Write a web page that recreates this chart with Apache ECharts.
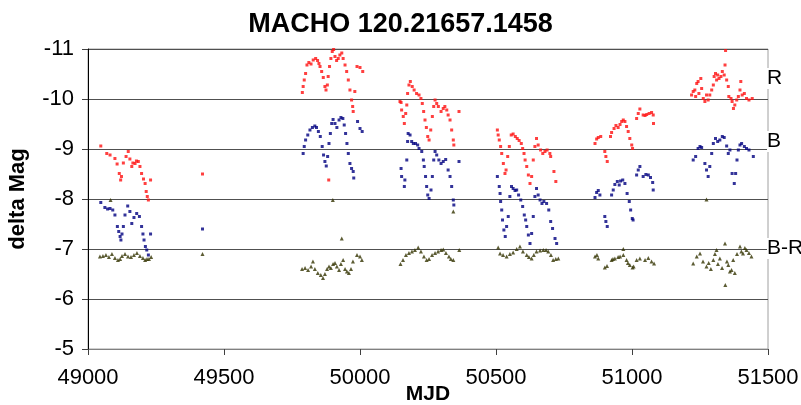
<!DOCTYPE html>
<html>
<head>
<meta charset="utf-8">
<script src="https://cdn.jsdelivr.net/npm/echarts@6/dist/echarts.min.js"></script>
<style>
html, body { margin: 0; padding: 0; background: #fff; }
#chart { width: 801px; height: 405px; }
</style>
</head>
<body>
<div id="chart"></div>
<script>
// MJD ticks
var xTicks = [49000, 49500, 50000, 50500, 51000, 51500];
var seriesNames = ['R', 'B', 'B-R'];

// R band, [MJD, delta mag]
var rData = [
    [49047,-9.06],[49069,-8.91],[49081,-8.88],[49099,-8.81],[49107,-8.7],[49115,-8.51],[49120,-8.38],[49123,-8.45],
    [49130,-8.72],[49140,-8.85],[49148,-8.95],[49154,-8.8],[49161,-8.65],[49165,-8.72],[49173,-8.71],[49178,-8.76],
    [49185,-8.75],[49191,-8.65],[49197,-8.51],[49204,-8.4],[49210,-8.31],[49214,-8.15],[49218,-8.05],[49222,-7.98],[49230,-8.38],
    [49421,-8.5],
    [49788,-10.13],[49791,-10.25],[49795,-10.38],[49800,-10.51],[49805,-10.68],[49812,-10.73],[49820,-10.7],[49828,-10.78],
    [49837,-10.81],[49844,-10.77],[49849,-10.71],[49853,-10.65],[49859,-10.55],[49865,-10.43],[49871,-10.25],[49875,-10.18],
    [49880,-10.28],[49883,-10.45],[49885,-8.38],[49888,-10.65],[49893,-10.81],[49898,-10.95],[49903,-10.99],[49908,-10.85],
    [49914,-10.77],[49920,-10.81],[49926,-10.88],[49933,-10.92],[49938,-10.81],[49945,-10.68],[49951,-10.55],[49957,-10.38],
    [49963,-10.18],[49969,-9.98],[49973,-9.85],[49975,-9.75],[49981,-10.15],[49989,-10.65],[50000,-10.63],[50010,-10.55],
    [50147,-9.95],[50151,-9.93],[50153,-9.78],[50159,-9.65],[50163,-9.51],[50168,-9.71],[50172,-9.88],[50175,-10.11],
    [50180,-10.28],[50185,-10.35],[50192,-10.25],[50199,-10.18],[50208,-10.11],[50217,-10.08],[50224,-10.01],[50229,-9.91],
    [50234,-9.75],[50239,-9.58],[50244,-9.43],[50249,-9.25],[50254,-9.18],[50260,-9.38],[50266,-9.65],[50271,-9.85],
    [50276,-9.98],[50282,-9.91],[50288,-9.85],[50298,-9.75],[50306,-9.81],[50312,-9.85],[50319,-9.78],[50324,-9.68],
    [50331,-9.58],[50337,-9.38],[50343,-9.18],[50345,-9.08],[50364,-9.75],
    [50505,-9.38],[50508,-9.28],[50512,-9.18],[50517,-9.05],[50521,-8.91],[50527,-8.71],[50533,-8.51],[50537,-8.58],
    [50543,-8.85],[50549,-9.05],[50556,-9.28],[50563,-9.3],[50571,-9.25],[50578,-9.21],[50585,-9.17],[50593,-9.11],
    [50598,-9.01],[50603,-8.91],[50607,-8.78],[50613,-8.65],[50619,-8.48],[50625,-8.31],[50631,-8.45],[50637,-8.78],
    [50643,-9.05],[50649,-9.21],[50655,-9.08],[50664,-8.98],[50672,-8.91],[50680,-8.95],[50688,-8.98],[50698,-8.91],
    [50701,-8.85],[50713,-8.55],[50720,-8.35],
    [50864,-9.11],[50870,-9.2],[50876,-9.23],[50885,-9.25],[50900,-8.95],[50904,-8.85],[50909,-8.75],[50921,-9.25],
    [50925,-9.33],[50934,-9.41],[50941,-9.47],[50949,-9.43],[50956,-9.49],[50962,-9.55],[50968,-9.58],[50974,-9.55],
    [50980,-9.45],[50986,-9.35],[50992,-9.21],[50999,-9.08],[51002,-9.01],[51017,-9.61],[51023,-9.71],[51029,-9.8],
    [51041,-9.68],[51048,-9.67],[51054,-9.69],[51063,-9.71],[51072,-9.73],[51078,-9.68],[51079,-9.51],
    [51219,-10.08],[51225,-10.15],[51231,-10.18],[51234,-10.05],[51238,-10.31],[51243,-10.35],[51246,-10.11],[51253,-10.41],
    [51256,-10.21],[51262,-10.01],[51268,-9.95],[51274,-10.08],[51280,-9.98],[51286,-10.08],[51293,-10.18],[51299,-10.28],
    [51302,-10.45],[51307,-10.51],[51311,-10.38],[51315,-10.48],[51320,-10.41],[51327,-10.45],[51332,-10.55],[51339,-10.48],
    [51342,-10.68],[51344,-10.97],[51348,-10.38],[51354,-10.25],[51356,-10.05],[51364,-10.01],[51368,-9.95],[51373,-9.81],
    [51378,-9.88],[51385,-9.98],[51391,-10.05],[51397,-10.18],[51400,-10.35],[51405,-10.08],[51413,-10.11],[51421,-10.01],
    [51430,-9.98],[51442,-10.01]
];

// B band
var bData = [
    [49047,-7.93],[49062,-7.83],[49072,-7.8],[49081,-7.81],[49091,-7.78],[49099,-7.68],[49108,-7.45],[49113,-7.35],
    [49118,-7.25],[49121,-7.18],[49125,-7.3],[49130,-7.45],[49136,-7.68],[49146,-7.86],[49154,-7.75],[49161,-7.51],
    [49169,-7.63],[49179,-7.71],[49189,-7.65],[49197,-7.45],[49202,-7.3],[49206,-7.18],[49211,-7.05],[49216,-6.98],
    [49222,-6.88],[49230,-7.3],
    [49421,-7.4],
    [49791,-8.91],[49795,-9.05],[49800,-9.18],[49808,-9.28],[49816,-9.38],[49825,-9.43],[49834,-9.46],[49840,-9.43],
    [49847,-9.35],[49854,-9.25],[49861,-9.05],[49866,-8.88],[49871,-8.75],[49876,-8.66],[49881,-8.85],[49886,-9.11],
    [49891,-9.31],[49896,-9.51],[49901,-9.59],[49908,-9.51],[49915,-9.43],[49923,-9.58],[49930,-9.63],[49937,-9.61],
    [49942,-9.48],[49947,-9.31],[49952,-9.11],[49957,-8.91],[49963,-8.71],[49969,-8.61],[49975,-8.55],[49977,-8.42],
    [49991,-9.55],[50000,-9.41],[50008,-9.35],
    [50151,-8.61],[50153,-8.45],[50163,-8.25],[50165,-8.38],[50172,-8.78],[50175,-9.15],[50177,-9.31],[50184,-9.28],
    [50190,-9.15],[50196,-9.11],[50204,-9.11],[50212,-9.08],[50217,-9.01],[50227,-8.95],[50233,-8.78],[50236,-8.65],
    [50241,-8.45],[50245,-8.25],[50249,-8.08],[50254,-8.01],[50261,-8.18],[50266,-8.45],[50271,-8.78],[50276,-8.95],
    [50282,-8.88],[50290,-8.78],[50298,-8.71],[50306,-8.75],[50315,-8.79],[50324,-8.58],[50331,-8.45],[50337,-8.25],
    [50343,-7.98],[50345,-7.88],[50364,-8.75],
    [50505,-8.45],[50512,-8.25],[50515,-8.11],[50517,-7.95],[50521,-7.78],[50524,-7.58],[50529,-7.38],[50534,-7.25],
    [50539,-7.45],[50545,-7.65],[50551,-8.05],[50557,-8.25],[50563,-8.21],[50570,-8.17],[50576,-8.18],[50583,-8.08],
    [50591,-7.98],[50598,-7.85],[50604,-7.68],[50609,-7.58],[50613,-7.45],[50619,-7.28],[50625,-7.11],[50631,-7.31],
    [50637,-7.65],[50643,-8.05],[50649,-8.21],[50655,-8.08],[50662,-7.98],[50669,-7.91],[50676,-7.95],[50686,-7.91],
    [50694,-7.78],[50701,-7.55],[50708,-7.41],[50717,-7.21],[50723,-7.11],
    [50864,-8.03],[50870,-8.13],[50876,-8.17],[50882,-8.08],[50900,-7.65],[50904,-7.55],[50909,-7.45],[50925,-8.08],
    [50931,-8.18],[50937,-8.29],[50946,-8.35],[50953,-8.28],[50958,-8.36],[50966,-8.38],[50974,-8.31],[50982,-8.11],
    [50990,-7.95],[50995,-7.78],[51001,-7.61],[51004,-7.58],[51017,-8.48],[51023,-8.58],[51029,-8.65],[51041,-8.45],
    [51051,-8.49],[51060,-8.48],[51068,-8.43],[51076,-8.33],[51078,-8.18],
    [51225,-8.78],[51234,-8.85],[51243,-9.01],[51250,-9.05],[51256,-9.03],[51268,-8.71],[51274,-8.58],[51280,-8.45],
    [51286,-8.65],[51293,-8.91],[51299,-9.11],[51307,-9.21],[51315,-9.15],[51323,-9.18],[51332,-9.25],[51339,-9.23],
    [51348,-9.06],[51354,-8.91],[51360,-8.98],[51368,-8.51],[51376,-8.31],[51381,-8.51],[51386,-8.78],[51391,-8.98],
    [51397,-9.08],[51403,-9.11],[51413,-9.05],[51421,-9.01],[51430,-8.98],[51446,-8.85]
];

// B-R colour
var brData = [
    [49044,-6.85],[49055,-6.86],[49066,-6.88],[49077,-6.84],[49083,-7.98],[49088,-6.9],[49099,-6.82],[49110,-6.78],
    [49118,-6.8],[49125,-6.86],[49136,-6.9],[49147,-6.85],[49158,-6.84],[49169,-6.88],[49180,-6.92],[49191,-6.86],
    [49202,-6.82],[49210,-6.78],[49217,-6.8],[49224,-6.8],[49232,-6.84],
    [49421,-6.9],
    [49787,-6.6],[49798,-6.62],[49809,-6.58],[49820,-6.65],[49827,-6.75],[49834,-6.6],[49845,-6.52],[49856,-6.48],
    [49864,-6.42],[49871,-6.5],[49879,-6.6],[49886,-6.65],[49893,-6.62],[49900,-7.98],[49901,-6.7],[49908,-6.72],
    [49915,-6.65],[49923,-6.58],[49930,-6.7],[49933,-7.21],[49938,-6.78],[49945,-6.6],[49952,-6.55],[49959,-6.52],
    [49967,-6.6],[49974,-6.75],[49989,-6.88],[50000,-6.85],[50007,-6.78],
    [50149,-6.7],[50158,-6.78],[50169,-6.88],[50180,-6.92],[50191,-6.95],[50202,-6.98],[50214,-7.03],[50224,-6.95],
    [50235,-6.85],[50245,-6.78],[50254,-6.8],[50265,-6.88],[50276,-6.92],[50287,-6.95],[50298,-6.98],[50306,-6.99],
    [50316,-6.92],[50327,-6.85],[50334,-6.8],[50343,-6.78],[50343,-7.75],[50365,-6.98],
    [50508,-7.03],[50515,-6.91],[50526,-6.88],[50539,-6.85],[50551,-6.9],[50563,-6.93],[50576,-7.0],[50588,-7.05],
    [50599,-6.95],[50613,-6.88],[50621,-6.84],[50631,-6.81],[50639,-6.88],[50649,-6.95],[50662,-6.97],[50674,-6.98],
    [50684,-6.98],[50692,-6.95],[50702,-6.88],[50710,-6.78],[50720,-6.8],[50729,-6.81],
    [50864,-6.85],[50871,-6.88],[50876,-6.81],[50900,-6.63],[50908,-6.66],[50925,-6.78],[50930,-6.8],[50937,-6.81],
    [50949,-6.84],[50956,-6.85],[50968,-6.88],[50968,-7.0],[50980,-6.78],[50985,-6.72],[50992,-6.68],[51002,-6.63],
    [51006,-6.65],[51017,-6.78],[51029,-6.81],[51048,-6.78],[51060,-6.82],[51072,-6.75],[51081,-6.71],
    [51225,-6.71],[51238,-6.85],[51250,-6.91],[51261,-6.75],[51274,-6.65],[51274,-7.99],[51282,-6.72],[51290,-6.6],
    [51299,-6.78],[51305,-6.9],[51311,-6.98],[51316,-6.7],[51323,-6.81],[51331,-6.62],[51342,-7.11],[51343,-6.28],
    [51349,-6.75],[51354,-6.68],[51360,-6.55],[51366,-6.58],[51372,-6.78],[51378,-6.52],[51386,-6.9],[51397,-7.05],
    [51402,-6.95],[51408,-6.91],[51415,-7.02],[51421,-6.98],[51430,-6.92],[51439,-6.85]
];

var chart = echarts.init(document.getElementById('chart'));

var option = {
    animation: false,
    backgroundColor: '#fff',
    title: {
        text: 'MACHO 120.21657.1458',
        left: 'center',
        top: 6,
        textStyle: { fontFamily: 'Liberation Sans', fontSize: 27, fontWeight: 'bold', color: '#000' }
    },
    grid: {
        left: 88, right: 33, top: 49, bottom: 56,
        containLabel: false,
        outerBoundsMode: 'none',
        show: true, borderColor: '#a0a0a0', borderWidth: 1
    },
    xAxis: {
        type: 'value',
        min: 49000, max: 51500, interval: 500,
        name: 'MJD',
        nameLocation: 'middle',
        nameGap: 35,
        nameMoveOverlap: false,
        nameTextStyle: { fontFamily: 'Liberation Sans', fontSize: 21, fontWeight: 'bold', color: '#000' },
        axisLine: { lineStyle: { color: '#808080' } },
        axisTick: { show: true, length: 6, lineStyle: { color: '#404040' } },
        splitLine: { show: false },
        axisLabel: {
            fontFamily: 'Liberation Sans', fontSize: 22, color: '#000', margin: 18,
            formatter: function (v) { return String(v); }
        }
    },
    yAxis: {
        type: 'value',
        inverse: true,
        min: -11, max: -5, interval: 1,
        name: 'delta Mag',
        nameLocation: 'middle',
        nameGap: 59,
        nameMoveOverlap: false,
        nameRotate: 90,
        nameTextStyle: { fontFamily: 'Liberation Sans', fontSize: 22, fontWeight: 'bold', color: '#000' },
        axisLine: { show: true, lineStyle: { color: '#000' } },
        axisTick: { show: true, length: 6, lineStyle: { color: '#404040' } },
        splitLine: { show: true, lineStyle: { color: '#505050', width: 1 } },
        axisLabel: { fontFamily: 'Liberation Sans', fontSize: 22, color: '#000', margin: 14 }
    },
    series: [
        {
            name: seriesNames[0], type: 'scatter', data: rData,
            symbol: 'rect', symbolSize: 3,
            itemStyle: { color: '#ff1010' }
        },
        {
            name: seriesNames[1], type: 'scatter', data: bData,
            symbol: 'rect', symbolSize: 3,
            itemStyle: { color: '#000080' }
        },
        {
            name: seriesNames[2], type: 'scatter', data: brData,
            symbol: 'triangle', symbolSize: 4,
            itemStyle: { color: '#333300' }
        }
    ],
    graphic: [
        { type: 'text', left: 767, top: 68, z: 100,
          style: { text: seriesNames[0], font: '21px "Liberation Sans"', fill: '#000', backgroundColor: '#fff' } },
        { type: 'text', left: 767, top: 131, z: 100,
          style: { text: seriesNames[1], font: '21px "Liberation Sans"', fill: '#000', backgroundColor: '#fff' } },
        { type: 'text', left: 767, top: 238, z: 100,
          style: { text: seriesNames[2], font: '21px "Liberation Sans"', fill: '#000', backgroundColor: '#fff' } }
    ]
};

chart.setOption(option);
</script>
</body>
</html>
